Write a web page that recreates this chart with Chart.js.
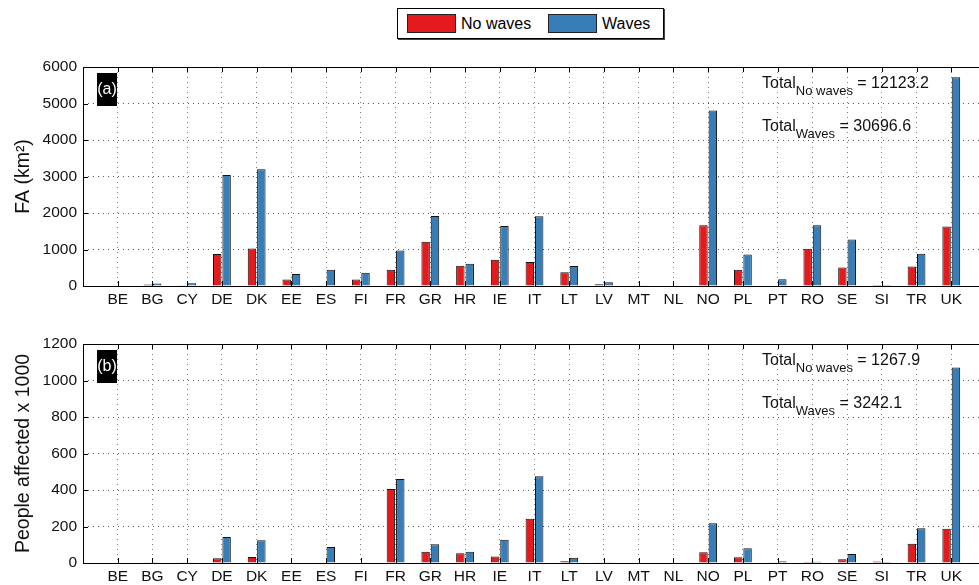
<!DOCTYPE html>
<html>
<head>
<meta charset="utf-8">
<script src="https://cdn.jsdelivr.net/npm/chart.js@4.4.0/dist/chart.umd.min.js"></script>
<style>
  body { margin: 0; width: 979px; height: 585px; overflow: hidden; background: #fff; font-family: "Liberation Sans", Arial, sans-serif; }
  .panel { position: absolute; left: 0; width: 990px; }
  #legend { position: absolute; left: 397px; top: 8px; width: 265px; height: 29px; border: 1px solid #000; box-shadow: 1px 1px 0 #444; background: #fff; font-size: 16px; }
  .sw { position: absolute; top: 5px; width: 47px; height: 17px; border: 1px solid #222; }
  .lt { position: absolute; top: 5px; line-height: 19px; }
</style>
</head>
<body>
<div id="legend">
  <div class="sw" style="left:9px;background:#e41a1c"></div><div class="lt" style="left:63px">No waves</div>
  <div class="sw" style="left:150px;background:#377eb8"></div><div class="lt" style="left:204px">Waves</div>
</div>
<div class="panel" style="top:0;height:310px"><canvas id="chartA"></canvas></div>
<div class="panel" style="top:300px;height:285px"><canvas id="chartB"></canvas></div>
<script>
var countries = ['BE', 'BG', 'CY', 'DE', 'DK', 'EE', 'ES', 'FI', 'FR', 'GR', 'HR', 'IE', 'IT',
                 'LT', 'LV', 'MT', 'NL', 'NO', 'PL', 'PT', 'RO', 'SE', 'SI', 'TR', 'UK'];

// (a) flooded area, km2
var faNoWaves = [0, 40, 20, 880, 1030, 180, 5, 180, 445, 1210, 555, 718, 655,
                 380, 45, 5, 0, 1664, 445, 0, 1018, 509, 25, 536, 1627];
var faWaves   = [0, 70, 75, 3040, 3200, 330, 445, 365, 973, 1918, 610, 1645, 1910,
                 545, 100, 10, 0, 4809, 864, 182, 1664, 1273, 25, 882, 5718];

// (b) people affected x 1000
var popNoWaves = [0, 1, 1, 26, 33, 0, 0, 0, 405, 62, 53, 35, 242,
                  9, 1, 0, 0, 59, 31, 1, 5, 20, 8, 105, 187];
var popWaves   = [0, 2, 1, 143, 125, 0, 88, 1, 460, 103, 62, 127, 475,
                  29, 2, 0, 0, 218, 81, 10, 7, 50, 6, 191, 1071];

var totalsA = ['12123.2', '30696.6'];
var totalsB = ['1267.9', '3242.1'];

var FONT = '"Liberation Sans", Arial, sans-serif';

// empty slot at both ends so the axis runs from 0 to 26
function padded(arr, blank) {
    return [blank].concat(arr, [blank]);
}

// frame, inward ticks, panel tag and totals
function panelPlugin(tag, totals) {
    return {
        id: 'panelDeco' + tag,
        afterDraw: function(chart) {
            var ctx = chart.ctx, a = chart.chartArea;
            var xs = chart.scales.x, ys = chart.scales.y;
            ctx.save();
            ctx.strokeStyle = '#000';
            ctx.lineWidth = 1;
            ctx.setLineDash([]);
            ctx.beginPath();
            ctx.moveTo(a.left + 0.5, a.bottom + 0.5);
            ctx.lineTo(a.left + 0.5, a.top + 0.5);
            ctx.lineTo(a.right, a.top + 0.5);
            ctx.moveTo(a.left, a.bottom + 0.5);
            ctx.lineTo(a.right, a.bottom + 0.5);
            for (var i = 1; i <= countries.length; i++) {
                var px = Math.round(xs.getPixelForValue(i)) + 0.5;
                ctx.moveTo(px, a.bottom); ctx.lineTo(px, a.bottom - 5);
                ctx.moveTo(px, a.top); ctx.lineTo(px, a.top + 5);
            }
            ys.ticks.forEach(function(t) {
                var py = Math.round(ys.getPixelForValue(t.value)) + 0.5;
                ctx.moveTo(a.left, py); ctx.lineTo(a.left + 5, py);
            });
            ctx.stroke();

            // tag box
            ctx.fillStyle = '#000';
            ctx.fillRect(a.left + 14, a.top + 6, 20, 33);
            ctx.fillStyle = '#fff';
            ctx.font = '16px ' + FONT;
            ctx.textAlign = 'center';
            ctx.textBaseline = 'middle';
            ctx.fillText('(' + tag + ')', a.left + 24, a.top + 23);

            // totals
            ctx.fillStyle = '#111';
            ctx.textAlign = 'left';
            ctx.textBaseline = 'alphabetic';
            var subs = ['No waves', 'Waves'];
            var ys0 = [a.top + 21, a.top + 64];
            for (var k = 0; k < 2; k++) {
                var x = a.left + 679;
                ctx.font = '16px ' + FONT;
                ctx.fillText('Total', x, ys0[k]);
                x += ctx.measureText('Total').width;
                ctx.font = '13px ' + FONT;
                ctx.fillText(subs[k], x, ys0[k] + 7);
                x += ctx.measureText(subs[k]).width;
                ctx.font = '16px ' + FONT;
                ctx.fillText(' = ' + totals[k], x, ys0[k]);
            }
            ctx.restore();
        }
    };
}

function makePanel(id, noWaves, waves, yMax, yStep, yTitle, tag, totals, padTop, xHeight) {
    var ctx = document.getElementById(id).getContext('2d');
    return new Chart(ctx, {
        type: 'bar',
        data: {
            labels: padded(countries, ''),
            datasets: [
                {
                    label: 'No waves',
                    data: padded(noWaves, null),
                    backgroundColor: '#e41a1c',
                    borderColor: '#111',
                    borderWidth: 1,
                    borderSkipped: 'bottom',
                    categoryPercentage: 0.54,
                    barPercentage: 0.9
                },
                {
                    label: 'Waves',
                    data: padded(waves, null),
                    backgroundColor: '#377eb8',
                    borderColor: '#111',
                    borderWidth: 1,
                    borderSkipped: 'bottom',
                    categoryPercentage: 0.54,
                    barPercentage: 0.9
                }
            ]
        },
        options: {
            responsive: true,
            maintainAspectRatio: false,
            animation: false,
            layout: { padding: { top: padTop, right: 2, left: 0, bottom: 0 } },
            plugins: { legend: { display: false }, tooltip: { enabled: false } },
            scales: {
                x: {
                    offset: false,
                    grid: { offset: false, drawTicks: false, color: 'rgba(0,0,0,0.5)', lineWidth: 1 },
                    border: { display: false, dash: [1, 4] },
                    ticks: { color: '#111', font: { family: FONT, size: 15.5 }, padding: 4, maxRotation: 0, autoSkip: false },
                    afterFit: function(scale) { scale.height = xHeight; }
                },
                y: {
                    min: 0,
                    max: yMax,
                    grid: { drawTicks: false, color: 'rgba(0,0,0,0.65)', lineWidth: 1 },
                    border: { display: false, dash: [1, 4] },
                    ticks: {
                        stepSize: yStep, color: '#111', font: { family: FONT, size: 15.5 }, padding: 6,
                        callback: function(v) { return String(v); }
                    },
                    title: { display: true, text: yTitle, color: '#111', font: { family: FONT, size: 19.5 }, padding: { top: 12, bottom: 0 } },
                    afterFit: function(scale) { scale.width = 83; }
                }
            }
        },
        plugins: [panelPlugin(tag, totals)]
    });
}

makePanel('chartA', faNoWaves, faWaves, 6000, 1000, 'FA (km\u00b2)', 'a', totalsA, 67, 24);
makePanel('chartB', popNoWaves, popWaves, 1200, 200, 'People affected x 1000', 'b', totalsB, 44, 22);
</script>
</body>
</html>
